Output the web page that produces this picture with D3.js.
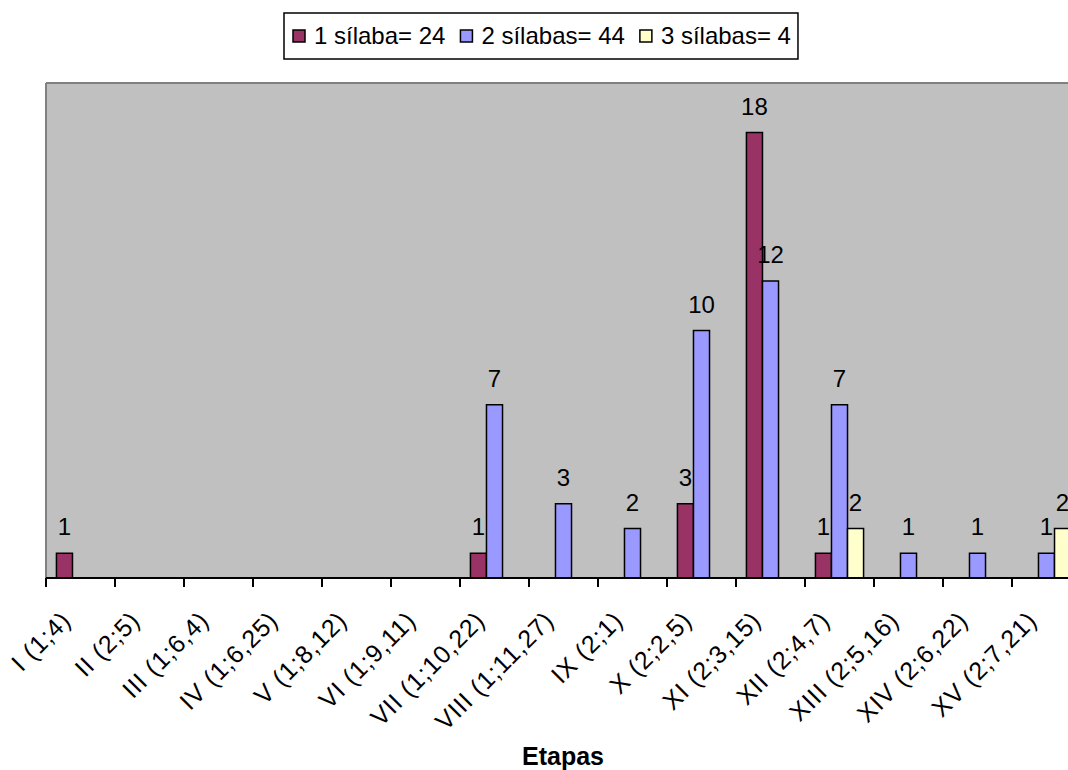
<!DOCTYPE html>
<html><head><meta charset="utf-8">
<script src="https://cdn.jsdelivr.net/npm/d3@7"></script>
<style>body{margin:0;background:#fff;}svg{display:block;font-family:"Liberation Sans",Arial,sans-serif;}</style>
</head><body>
<svg id="c" width="1068" height="770"></svg>
<script>
const categories = ["I (1;4)","II (2;5)","III (1;6,4)","IV (1;6,25)","V (1;8,12)","VI (1;9,11)","VII (1;10,22)","VIII (1;11,27)","IX (2;1)","X (2;2,5)","XI (2;3,15)","XII (2;4,7)","XIII (2;5,16)","XIV (2;6,22)","XV (2;7,21)"];
const seriesNames = ["1 sílaba= 24","2 sílabas= 44","3 sílabas= 4"];
const unaSilaba  = [1,0,0,0,0,0,1,0,0,3,18,1,0,0,0];
const dosSilabas = [0,0,0,0,0,0,7,3,2,10,12,7,1,1,1];
const tresSilabas= [0,0,0,0,0,0,0,0,0,0,0,2,0,0,2];
const colors = ["#993366","#9999FF","#FFFFCC"];
const xTitle = "Etapas";

const series = [unaSilaba, dosSilabas, tresSilabas];
const svg = d3.select("#c");
const L = 46, R = 1081, T = 83, B = 578;
const x = d3.scaleBand().domain(categories).range([L, R]).paddingInner(0).paddingOuter(0);
const xs = d3.scaleBand().domain([0,1,2]).range([0, x.bandwidth()]).paddingInner(0).paddingOuter(0.65);
const y = d3.scaleLinear().domain([0, 20]).range([B, T]);

// plot area
svg.append("rect").attr("x", L).attr("y", T).attr("width", R - L).attr("height", B - T)
  .attr("fill", "#C0C0C0");
svg.append("line").attr("x1", L).attr("x2", R).attr("y1", T).attr("y2", T).attr("stroke", "#808080").attr("stroke-width", 2);
svg.append("line").attr("x1", L).attr("x2", L).attr("y1", T).attr("y2", B).attr("stroke", "#808080").attr("stroke-width", 2);

// bars
const data = [];
categories.forEach((c, i) => series.forEach((s, k) => { if (s[i] > 0) data.push({c, k, v: s[i]}); }));
svg.append("g").selectAll("rect").data(data).join("rect")
  .attr("x", d => x(d.c) + xs(d.k))
  .attr("y", d => y(d.v))
  .attr("width", xs.bandwidth())
  .attr("height", d => B - y(d.v))
  .attr("fill", d => colors[d.k])
  .attr("stroke", "#000").attr("stroke-width", 1.5);

svg.append("g").selectAll("text").data(data).join("text")
  .attr("x", d => x(d.c) + xs(d.k) + xs.bandwidth() / 2)
  .attr("y", d => y(d.v) - 18)
  .attr("text-anchor", "middle")
  .attr("font-size", 24)
  .text(d => d.v);

// x axis
const xAxis = d3.axisBottom(x).tickSize(0).tickFormat("");
const gx = svg.append("g").attr("transform", `translate(0,${B})`).call(xAxis);
gx.select(".domain").attr("stroke", "#000").attr("stroke-width", 2).attr("d", `M${L},0H${R}`);
svg.append("g").selectAll("line").data(d3.range(categories.length + 1)).join("line")
  .attr("x1", i => L + i * x.step()).attr("x2", i => L + i * x.step())
  .attr("y1", B).attr("y2", B + 9).attr("stroke", "#000").attr("stroke-width", 2);

svg.append("g").selectAll("text").data(categories).join("text")
  .attr("transform", d => `translate(${x(d) + x.bandwidth() / 2 - 8},${B + 44}) rotate(-45)`)
  .attr("text-anchor", "end")
  .attr("font-size", 25)
  .attr("letter-spacing", 0.9)
  .text(d => d);

svg.append("text").attr("x", 563).attr("y", 765).attr("text-anchor", "middle")
  .attr("font-weight", "bold").attr("font-size", 25).text(xTitle);

// legend
const lg = svg.append("g");
let cx = 293;
seriesNames.forEach((n, k) => {
  lg.append("rect").attr("x", cx).attr("y", 30).attr("width", 12).attr("height", 12)
    .attr("fill", colors[k]).attr("stroke", "#000").attr("stroke-width", 1.5);
  const t = lg.append("text").attr("x", cx + 21).attr("y", 44).attr("font-size", 24).text(n);
  cx += 21 + t.node().getComputedTextLength() + 15;
});
lg.insert("rect", ":first-child").attr("x", 284).attr("y", 13).attr("width", cx - 8 - 284).attr("height", 46)
  .attr("fill", "#fff").attr("stroke", "#000").attr("stroke-width", 1.5);
</script>
</body></html>
